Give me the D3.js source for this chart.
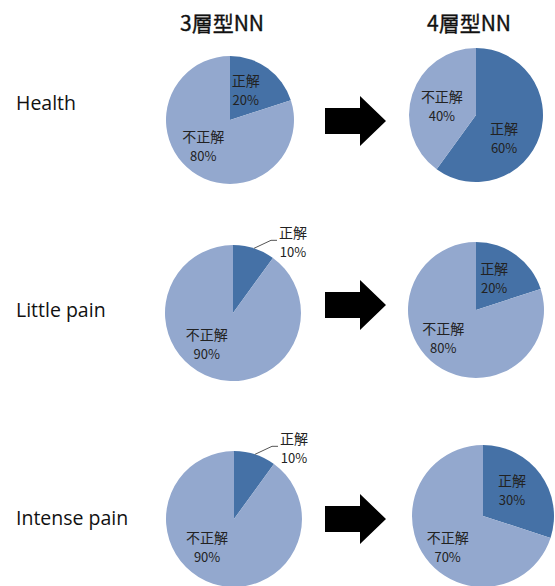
<!DOCTYPE html>
<html>
<head>
<meta charset="utf-8">
<script src="https://cdn.jsdelivr.net/npm/d3@7/dist/d3.min.js"></script>
<style>
  html, body { margin: 0; padding: 0; background: #fff; }
  svg { display: block; }
</style>
</head>
<body>
<script>
// Accuracy of the two networks, per pain condition (percent correct)
const models = ["3層型NN", "4層型NN"];
const conditions = ["Health", "Little pain", "Intense pain"];
const correct3 = [20, 10, 10];
const correct4 = [60, 20, 30];
const sliceNames = ["正解", "不正解"];

const W = 555, H = 586;
const svg = d3.select("body").append("svg").attr("width", W).attr("height", H);

const FONT = "'Noto Sans CJK JP', 'Open Sans', sans-serif";
const colors = d3.scaleOrdinal().domain(sliceNames).range(["#4571a6", "#93a8ce"]);

// grid layout: one row per condition, one column per model — [cx, cy, radius]
const cells = [
  [[230, 120, 64], [476, 115, 67]],
  [[233, 313, 68], [476, 310, 68]],
  [[234, 519, 68], [483, 516, 71]]
];
const rowLabelY = [110, 317, 525];
const arrowY = [121, 305, 519];
// best-fit label placement inside each slice: [angle in degrees, fraction of radius]
const labelPlace = [
  [[[27, 0.54], [226, 0.58]], [[129, 0.54], [286, 0.53]]],
  [[null, [221, 0.59]], [[29, 0.55], [230, 0.63]]],
  [[null, [224, 0.57]], [[48, 0.55], [229, 0.66]]]
];

// column titles
svg.selectAll("text.title").data(models).join("text")
  .attr("class", "title")
  .attr("x", (d, i) => [222, 469][i])
  .attr("y", 31)
  .attr("text-anchor", "middle")
  .attr("font-family", FONT)
  .attr("font-size", 21)
  .attr("font-weight", 400)
  .attr("stroke", "#111")
  .attr("stroke-width", 0.35)
  .attr("fill", "#111")
  .text(d => d);

// row labels
svg.selectAll("text.row").data(conditions).join("text")
  .attr("class", "row")
  .attr("x", 16)
  .attr("y", (d, i) => rowLabelY[i])
  .attr("font-family", "'Open Sans', 'DejaVu Sans', sans-serif")
  .attr("font-size", 19.5)
  .attr("fill", "#111")
  .text(d => d);

const pie = d3.pie().sort(null).value(d => d.value);

function drawPie(r, c, pct) {
  const [cx, cy, R] = cells[r][c];
  const data = pie([
    { name: sliceNames[0], value: pct },
    { name: sliceNames[1], value: 100 - pct }
  ]);
  const g = svg.append("g").attr("transform", `translate(${cx},${cy})`);
  const arc = d3.arc().innerRadius(0).outerRadius(R);
  g.selectAll("path").data(data).join("path")
    .attr("d", arc)
    .attr("fill", d => colors(d.data.name));

  data.forEach((d, k) => {
    let lx, ly;
    const place = labelPlace[r][c][k];
    if (!place) {
      // slice too thin: label outside with a leader line
      const mid = (d.startAngle + d.endAngle) / 2;
      const p0 = [Math.sin(mid) * R, -Math.cos(mid) * R];
      const p1 = [p0[0] + 17, p0[1] - 8];
      const p2 = [p1[0] + 6, p1[1]];
      g.append("path")
        .attr("d", d3.line()([p0, p1, p2]))
        .attr("fill", "none")
        .attr("stroke", "#555")
        .attr("stroke-width", 1);
      lx = p2[0] + 16;
      ly = p1[1] + 1;
    } else {
      const a = place[0] * Math.PI / 180;
      lx = Math.sin(a) * R * place[1];
      ly = -Math.cos(a) * R * place[1];
    }
    const t = g.append("text")
      .attr("text-anchor", "middle")
      .attr("font-family", FONT)
      .attr("font-size", 14)
      .attr("fill", "#222");
    t.append("tspan").attr("x", lx).attr("y", ly - 3.5).text(d.data.name);
    t.append("tspan").attr("x", lx).attr("y", ly + 15.5).attr("font-size", 13).text(d.data.value + "%");
  });
}

conditions.forEach((cond, r) => {
  drawPie(r, 0, correct3[r]);
  drawPie(r, 1, correct4[r]);

  // block arrow between the two pies
  const ay = arrowY[r];
  const x0 = 325, xh = 360, xt = 386, bh = 13, hh = 25;
  svg.append("path")
    .attr("d", d3.line()([
      [x0, ay - bh], [xh, ay - bh], [xh, ay - hh], [xt, ay],
      [xh, ay + hh], [xh, ay + bh], [x0, ay + bh]
    ]) + "Z")
    .attr("fill", "#000");
});
</script>
</body>
</html>
